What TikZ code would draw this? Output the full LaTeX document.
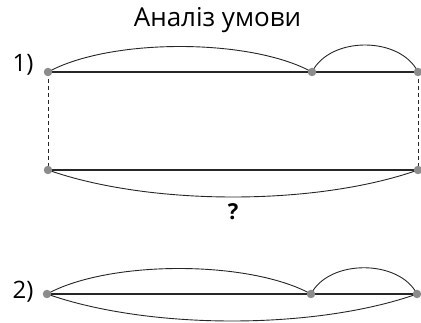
\documentclass[tikz,border=0pt]{standalone}
\usepackage{fontspec}
\setmainfont{Open Sans}
\definecolor{CP}{HTML}{8c8c8c}
\tikzset{
	pt/.style  = {circle, fill=CP, inner sep=0pt, minimum size=8.5pt},
	seg/.style = {line width=1.4pt, black!85},
	arc/.style = {line width=0.9pt, black!85},
	vd/.style  = {line width=0.8pt, dash pattern=on 4pt off 3pt, black!85},
	lb/.style  = {font=\fontsize{24}{24}\selectfont, anchor=base},
}
\begin{document}
\begin{tikzpicture}[x=1pt, y=-1pt]
	\useasboundingbox (0,0) rectangle (421,323);

	%%═══════════════════════════════════════════════════════════════════
	%% TITLE + ROW LABELS
	%%═══════════════════════════════════════════════════════════════════
	\node[font=\fontsize{26}{26}\selectfont, anchor=base] (title) at (217.5, 27){Аналіз умови};
	\node[lb] (n1) at (23, 72){1)};
	\node[lb] (n2) at (23, 299){2)};

	%%═══════════════════════════════════════════════════════════════════
	%% POINTS
	%%   row a : y = 72    row b : y = 170    row c : y = 294
	%%═══════════════════════════════════════════════════════════════════
	\coordinate (a1) at (48, 72);  \coordinate (a2) at (312, 72);  \coordinate (a3) at (418, 72);
	\coordinate (b1) at (48, 170); \coordinate (b3) at (418, 170);
	\coordinate (c1) at (47, 294); \coordinate (c2) at (311, 294); \coordinate (c3) at (417, 294);

	%% row 1 ───────────────────────────────────────────────────────────
	\draw[seg] (a1) -- (a3);
	\draw[arc] (a1) .. controls (110, 38) and (250, 38) .. (a2);
	\draw[arc] (a2) .. controls (330, 36) and (400, 36) .. (a3);
	\draw[vd] (a1) -- (b1);
	\draw[vd] (a3) -- (b3);

	%% whole segment ───────────────────────────────────────────────────
	\draw[seg] (b1) -- (b3);
	\draw[arc] (b1) .. controls (150, 206) and (316, 206) .. (b3);
	\node[font=\fontsize{22}{22}\selectfont\bfseries] (q) at (233, 212){?};

	%% row 2 ───────────────────────────────────────────────────────────
	\draw[seg] (c1) -- (c3);
	\draw[arc] (c1) .. controls (109, 260) and (249, 260) .. (c2);
	\draw[arc] (c2) .. controls (329, 259) and (399, 259) .. (c3);
	\draw[arc] (c1) .. controls (149, 330) and (315, 330) .. (c3);

	%% dots on top ─────────────────────────────────────────────────────
	\foreach \p in {a1,a2,a3,b1,b3,c1,c2,c3}
		\node[pt] at (\p) {};

\end{tikzpicture}
\end{document}
